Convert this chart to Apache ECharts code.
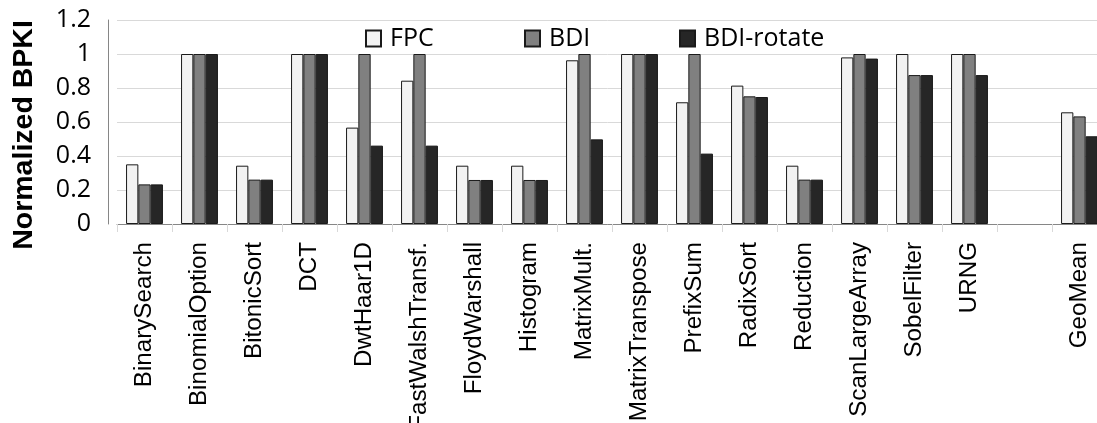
<!DOCTYPE html>
<html>
<head>
<meta charset="utf-8">
<script src="https://cdn.jsdelivr.net/npm/echarts@6/dist/echarts.min.js"></script>
<style>
html,body{margin:0;padding:0;background:#fff;}
#c{width:1097px;height:423px;}
</style>
</head>
<body>
<div id="c"></div>
<script>
const categories = ['BinarySearch','BinomialOption','BitonicSort','DCT','DwtHaar1D','FastWalshTransf.','FloydWarshall','Histogram','MatrixMult.','MatrixTranspose','PrefixSum','RadixSort','Reduction','ScanLargeArray','SobelFilter','URNG','','GeoMean'];
const fpc       = [0.351,1,0.343,1,0.567,0.843,0.343,0.343,0.963,1,0.716,0.814,0.343,0.980,1,1,null,0.657];
const bdi       = [0.233,1,0.261,1,1,1,0.259,0.259,1,1,1,0.751,0.261,1,0.876,1,null,0.633];
const bdiRotate = [0.233,1,0.261,1,0.461,0.461,0.259,0.259,0.498,1,0.414,0.747,0.261,0.973,0.876,0.876,null,0.516];
const seriesNames = ['FPC','BDI','BDI-rotate'];
const yTicks = {min:0, max:1.2, interval:0.2};

const colors = ['#f2f2f2','#808080','#262626'];
const legendLefts = [360, 519, 674];
const dataSets = [fpc, bdi, bdiRotate];

const chart = echarts.init(document.getElementById('c'), null, {renderer:'canvas'});
chart.setOption({
  animation:false,
  backgroundColor:'#fff',
  textStyle:{fontFamily:'Open Sans'},
  grid:{left:117, right:-10, top:20, bottom:199, containLabel:false, outerBoundsMode:'none'},
  legend: seriesNames.map((n,i)=>({
    data:[n], left:legendLefts[i], top:21, icon:'rect', itemWidth:15, itemHeight:16,
    textStyle:{fontFamily:'Open Sans', fontSize:25, color:'#000', padding:[0,0,0,4]}
  })),
  graphic:[{
    type:'text', x:24, y:135, rotation:Math.PI/2,
    style:{text:'Normalized BPKI', font:'bold 28.5px "Liberation Sans"', fill:'#000', align:'center', verticalAlign:'middle'}
  }],
  xAxis:{
    type:'category', data:categories,
    axisLine:{show:true, lineStyle:{color:'#868686', width:1}},
    axisTick:{show:true, length:8, lineStyle:{color:'#d9d9d9'}},
    axisLabel:{rotate:90, margin:18, fontFamily:'Liberation Sans', fontSize:24.2, color:'#000', interval:0},
    splitLine:{show:false}
  },
  yAxis:{
    type:'value', min:yTicks.min, max:yTicks.max, interval:yTicks.interval, offset:9,
    axisLine:{show:true, lineStyle:{color:'#868686', width:1}},
    axisTick:{show:false},
    axisLabel:{fontFamily:'Open Sans', fontSize:25, color:'#000', margin:17},
    splitLine:{show:true, lineStyle:{color:'#d9d9d9', width:1}}
  },
  series: dataSets.map((d,i)=>({
    name:seriesNames[i], type:'bar', data:d, barWidth:12.3, barGap:'0%',
    itemStyle:{color:colors[i], borderColor:'#1a1a1a', borderWidth:1}
  }))
});
</script>
</body>
</html>
